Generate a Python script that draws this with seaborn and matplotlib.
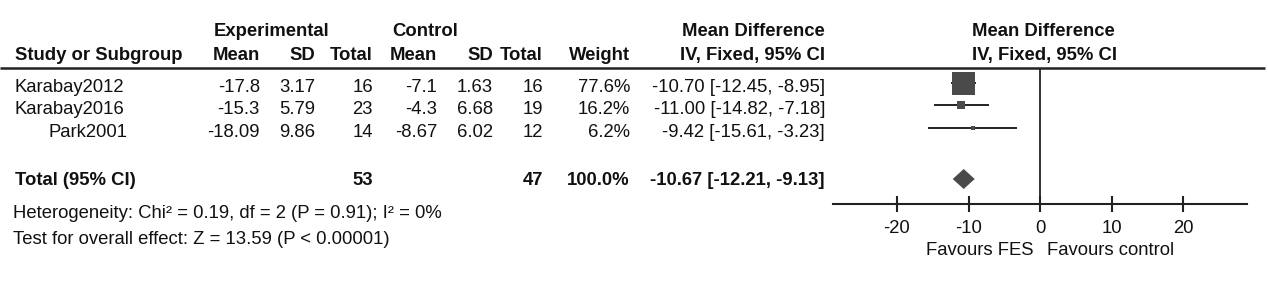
import matplotlib
matplotlib.use("Agg")
import matplotlib.pyplot as plt
import seaborn as sns
import numpy as np
import pandas as pd

# ---------------- data ----------------
studies = ["Karabay2012", "Karabay2016", "Park2001"]
exp_mean = ["-17.8", "-15.3", "-18.09"]
exp_sd = ["3.17", "5.79", "9.86"]
exp_total = [16, 23, 14]
ctl_mean = ["-7.1", "-4.3", "-8.67"]
ctl_sd = ["1.63", "6.68", "6.02"]
ctl_total = [16, 19, 12]
weights = [77.6, 16.2, 6.2]
md = [-10.70, -11.00, -9.42]
ci_lo = [-12.45, -14.82, -15.61]
ci_hi = [-8.95, -7.18, -3.23]

total_exp = 53
total_ctl = 47
total_weight = 100.0
total_md = -10.67
total_lo = -12.21
total_hi = -9.13

heterogeneity = "Heterogeneity: Chi² = 0.19, df = 2 (P = 0.91); I² = 0%"
overall = "Test for overall effect: Z = 13.59 (P < 0.00001)"
xticks = [-20, -10, 0, 10, 20]
fav_left = "Favours FES"
fav_right = "Favours control"

# ---------------- style ----------------
sns.set_theme(style="white")
plt.rcParams["font.family"] = ["Liberation Sans", "DejaVu Sans"]
FS = 13.3
TXT = "#111111"
MK = "#4a4a4a"

W, H = 1268, 284
fig = plt.figure(figsize=(W / 100, H / 100), dpi=100)
fig.patch.set_facecolor("white")

# text layer in pixel coordinates
axt = fig.add_axes([0, 0, 1, 1])
axt.set_xlim(0, W)
axt.set_ylim(H, 0)
axt.axis("off")

def t(x, y, s, ha="right", bold=False, **kw):
    axt.text(x, y + 1.5, s, ha=ha, va="center", fontsize=FS, color=TXT,
             fontweight="bold" if bold else "normal", **kw)

# column right edges (px)
c_em, c_esd, c_et, c_cm, c_csd, c_ct, c_w, c_ci = 260, 315, 373, 437, 493, 543, 630, 825
y_h1, y_h2 = 30, 54
rows_y = [86, 108, 131]
y_tot = 179

# headers
t(214, y_h1, "Experimental", ha="left", bold=True)
t(392, y_h1, "Control", ha="left", bold=True)
t(c_ci, y_h1, "Mean Difference", bold=True)
t(1043, y_h1, "Mean Difference", ha="center", bold=True)
t(15, y_h2, "Study or Subgroup", ha="left", bold=True)
for x, s in zip([c_em, c_esd, c_et, c_cm, c_csd, c_ct, c_w, c_ci],
                ["Mean", "SD", "Total", "Mean", "SD", "Total", "Weight", "IV, Fixed, 95% CI"]):
    t(x, y_h2, s, bold=True)
t(1045, y_h2, "IV, Fixed, 95% CI", ha="center", bold=True)
axt.plot([0, 1265], [68, 68], color="#222222", lw=1.8, solid_capstyle="butt")

# study rows
for i, y in enumerate(rows_y):
    name_x = 48 if studies[i] == "Park2001" else 15
    t(name_x, y, studies[i], ha="left")
    t(c_em, y, exp_mean[i])
    t(c_esd, y, exp_sd[i])
    t(c_et, y, str(exp_total[i]))
    t(c_cm, y, ctl_mean[i])
    t(c_csd, y, ctl_sd[i])
    t(c_ct, y, str(ctl_total[i]))
    t(c_w, y, f"{weights[i]:.1f}%")
    t(c_ci, y, f"{md[i]:.2f} [{ci_lo[i]:.2f}, {ci_hi[i]:.2f}]")

# total row
t(15, y_tot, "Total (95% CI)", ha="left", bold=True)
t(c_et, y_tot, str(total_exp), bold=True)
t(c_ct, y_tot, str(total_ctl), bold=True)
t(c_w, y_tot, f"{total_weight:.1f}%", bold=True)
t(c_ci, y_tot, f"{total_md:.2f} [{total_lo:.2f}, {total_hi:.2f}]", bold=True)

t(13, 212, heterogeneity, ha="left")
t(13, 238, overall, ha="left")

# ---------------- forest axes ----------------
px_per_unit = 7.15
x0_px = 1040
xl, xr = -29.0, 29.0
ax_top, ax_bot = 68, 204
axf = fig.add_axes([(x0_px + xl * px_per_unit) / W, (H - ax_bot) / H,
                    (xr - xl) * px_per_unit / W, (ax_bot - ax_top) / H])
axf.set_xlim(xl, xr)
axf.set_ylim(ax_bot, ax_top)
axf.patch.set_alpha(0)
for s in ["top", "left", "right"]:
    axf.spines[s].set_visible(False)
axf.spines["bottom"].set_color("#222222")
axf.spines["bottom"].set_linewidth(1.5)
axf.set_yticks([])
axf.set_xticks(xticks)
axf.set_xticklabels([str(v) for v in xticks])
axf.tick_params(axis="x", direction="inout", length=11, width=1.5, color="#222222",
                labelsize=FS, labelcolor=TXT, pad=6, bottom=True)

axf.axvline(0, color="#222222", lw=1.3)

mk_y = [y - 3 for y in rows_y]
df = pd.DataFrame({"md": md, "y": mk_y, "lo": ci_lo, "hi": ci_hi, "w": weights})
axf.hlines(df["y"], df["lo"], df["hi"], color="#222222", lw=1.4, zorder=2)
side_px = 23 * (df["w"] / max(weights)) ** 0.675
df["s"] = (side_px * 0.72) ** 2
sns.scatterplot(data=df, x="md", y="y", size="s", sizes=(df["s"].min(), df["s"].max()),
                marker="s", color=MK, edgecolor="none", legend=False, ax=axf, zorder=3)
axf.set_xlabel("")
axf.set_ylabel("")

# diamond for pooled estimate
dy = 10
axf.fill([total_lo, total_md, total_hi, total_md],
         [y_tot, y_tot - dy, y_tot, y_tot + dy], color=MK, lw=0, zorder=3)

# favours labels
t(1033, 249, fav_left)
t(1047, 249, fav_right, ha="left")

fig.savefig("out.png", dpi=100, facecolor="white")
